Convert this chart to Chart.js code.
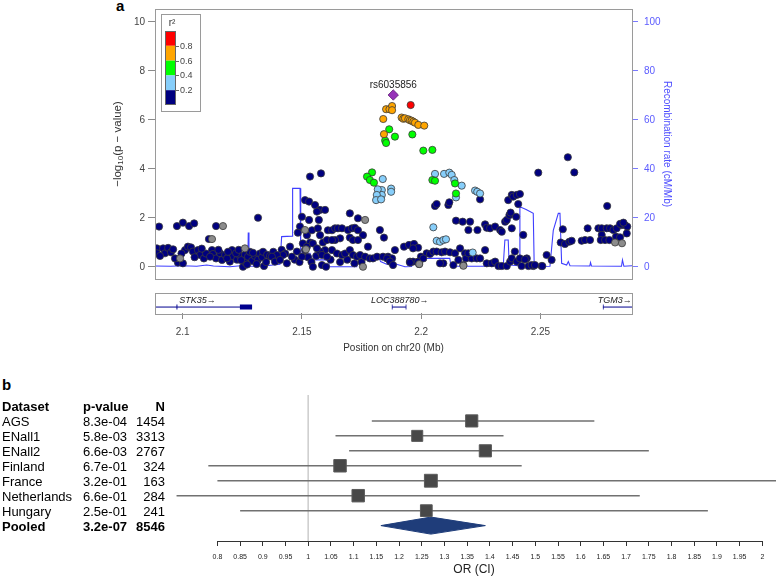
<!DOCTYPE html>
<html>
<head>
<meta charset="utf-8">
<script src="https://cdn.jsdelivr.net/npm/chart.js@4"></script>
<style>
  body { margin: 0; background: #fff; font-family: "Liberation Sans", Arial, sans-serif; }
  #page { position: relative; width: 778px; height: 581px; overflow: hidden; }
  canvas { position: absolute; left: 0; }
  .panel { position: absolute; font-weight: bold; font-size: 15px; line-height: 15px; }
  .cell { position: absolute; font-size: 13px; line-height: 15px; white-space: nowrap; color: #000; }
</style>
</head>
<body>
<div id="page">
  <div class="panel" style="left:116px;top:-2px">a</div>
  <div class="panel" style="left:2px;top:377px">b</div>
  <canvas id="locus" width="778" height="302" style="top:-10px"></canvas>
  <canvas id="genes" width="778" height="75" style="top:285px"></canvas>
  <canvas id="forest" width="778" height="191" style="top:390px"></canvas>
  <div id="table"></div>
</div>
<script>
const FONT = '"Liberation Sans", Arial, sans-serif';
Chart.defaults.font.family = FONT;
Chart.defaults.animation = false;

// ---- panel a : regional association plot ----
const xRange = [2.0884, 2.2884];          // Mb on chr20
const pTicks = [0, 2, 4, 6, 8, 10];
const recTicks = [0, 20, 40, 60, 80, 100];
const posTicks = [2.1, 2.15, 2.2, 2.25];

const ldColors = ['#ff0000', '#ffa500', '#00ff00', '#87cefa', '#000080'];
const ldBreaks = ['0.8', '0.6', '0.4', '0.2'];

const topSnpName = 'rs6035856';
const topSnp = [[2.1883, 7.02]];
const snpRed = [[2.1956, 6.61]];
const snpOrange = [
  [2.1841, 6.04], [2.1844, 5.42], [2.1853, 6.44], [2.1867, 6.44], [2.1878, 6.57], [2.1878, 6.40],
  [2.1918, 6.10], [2.1925, 6.05], [2.1932, 6.07], [2.1946, 6.03], [2.1953, 5.99], [2.1960, 5.97],
  [2.1967, 5.93], [2.1974, 5.89], [2.1988, 5.80], [2.2013, 5.77]
];
const snpGreen = [
  [2.1849, 5.16], [2.1853, 5.06], [2.1794, 3.86], [2.1773, 3.69], [2.1785, 3.55], [2.1802, 3.44],
  [2.1866, 5.62], [2.1890, 5.32], [2.1963, 5.41], [2.2009, 4.75], [2.2047, 4.78], [2.2047, 3.55],
  [2.2058, 3.52], [2.2142, 3.41], [2.2146, 3.00]
];
const snpBlue = [
  [2.1839, 3.59], [2.1835, 3.14], [2.1835, 2.94], [2.1874, 3.20], [2.1874, 3.07], [2.1818, 3.17],
  [2.1814, 2.94], [2.1811, 2.73], [2.1832, 2.76], [2.2058, 3.80], [2.2096, 3.80], [2.2118, 3.85],
  [2.2128, 3.76], [2.2139, 3.55], [2.2170, 3.32], [2.2146, 2.84], [2.2226, 3.12], [2.2235, 3.07],
  [2.2247, 3.00], [2.2051, 1.62], [2.2065, 1.07], [2.2079, 1.03], [2.2093, 1.10], [2.2104, 1.13],
  [2.2216, 0.59]
];
const snpGray = [
  [2.1169, 1.67], [2.1123, 1.14], [2.0989, 0.35], [2.1261, 0.76], [2.1756, 0.01], [2.1765, 1.92],
  [2.1513, 1.51], [2.1517, 0.72], [2.2813, 1.00], [2.2842, 0.97], [2.1992, 0.12], [2.2177, 0.05]
];
const snpNavy = [
  [2.0901, 1.65], [2.0976, 1.67], [2.1001, 1.81], [2.1027, 1.67], [2.1048, 1.78], [2.1140, 1.67],
  [2.1316, 2.01], [2.1110, 1.14],
  [2.0892, 0.76], [2.0892, 0.56], [2.0918, 0.76], [2.0926, 0.56], [2.0939, 0.78], [2.0951, 0.60],
  [2.0980, 0.18], [2.1001, 0.15], [2.1010, 0.69], [2.1022, 0.83], [2.1035, 0.80], [2.1043, 0.63],
  [2.1064, 0.69], [2.1073, 0.49], [2.1089, 0.35], [2.1123, 0.69], [2.1127, 0.53], [2.1140, 0.35],
  [2.1157, 0.56], [2.1165, 0.29], [2.1178, 0.49], [2.1198, 0.22], [2.1207, 0.69], [2.1211, 0.44],
  [2.1228, 0.30], [2.1240, 0.47], [2.1253, 0.01], [2.1261, 0.20], [2.1261, 0.50], [2.1274, 0.42],
  [2.1282, 0.62], [2.1291, 0.25], [2.1303, 0.45], [2.1316, 0.30], [2.1324, 0.55], [2.1333, 0.40],
  [2.1337, 0.62], [2.1341, 0.04], [2.1354, 0.50], [2.1366, 0.45], [2.0968, 0.35], [2.1098, 0.55],
  [2.1186, 0.35], [2.1224, 0.56], [2.1295, 0.58],
  [2.0905, 0.45], [2.0960, 0.72], [2.0995, 0.55], [2.1050, 0.40], [2.1080, 0.75], [2.1115, 0.42],
  [2.1150, 0.70], [2.1190, 0.62], [2.1235, 0.70], [2.1245, 0.28], [2.1270, 0.10], [2.1310, 0.12],
  [2.1350, 0.20], [2.1380, 0.62], [2.1415, 0.70], [2.1430, 0.55], [2.1470, 0.30], [2.1490, 0.20],
  [2.1525, 0.40], [2.1560, 0.45], [2.1540, 0.20], [2.1620, 0.30], [2.1660, 0.20], [2.1690, 0.30],
  [2.1750, 0.20], [2.1720, 0.15],
  [2.1534, 3.69], [2.1580, 3.82], [2.1513, 2.73], [2.1530, 2.67], [2.1555, 2.53], [2.1576, 2.33],
  [2.1597, 2.33], [2.1563, 2.26], [2.1500, 2.05], [2.1530, 1.92], [2.1571, 1.92], [2.1701, 2.19],
  [2.1735, 1.99], [2.1492, 1.65], [2.1483, 1.40], [2.1521, 1.30], [2.1542, 1.50], [2.1567, 1.58],
  [2.1576, 1.30], [2.1588, 1.00], [2.1605, 1.10], [2.1609, 1.50], [2.1626, 1.50], [2.1639, 1.58],
  [2.1651, 1.58], [2.1668, 1.58], [2.1693, 1.51], [2.1710, 1.58], [2.1722, 1.60], [2.1735, 1.50],
  [2.1756, 1.30], [2.1701, 1.20], [2.1714, 1.10], [2.1735, 1.10], [2.1660, 1.17], [2.1639, 1.10],
  [2.1626, 1.10], [2.1597, 0.69], [2.1576, 0.63], [2.1584, 0.49], [2.1605, 0.42], [2.1626, 0.69],
  [2.1647, 0.55], [2.1668, 0.49], [2.1681, 0.55], [2.1701, 0.69], [2.1714, 0.49], [2.1731, 0.42],
  [2.1744, 0.49], [2.1765, 0.42], [2.1785, 0.35], [2.1798, 0.35], [2.1815, 0.42], [2.1840, 0.42],
  [2.1861, 0.42], [2.1878, 0.35], [2.1827, 1.51], [2.1844, 1.20], [2.1890, 0.69], [2.1777, 0.83],
  [2.1450, 0.83], [2.1421, 0.49], [2.1395, 0.49], [2.1374, 0.42], [2.1387, 0.22], [2.1408, 0.29],
  [2.1437, 0.15], [2.1458, 0.42], [2.1500, 0.42], [2.1513, 0.69], [2.1534, 1.00], [2.1504, 0.96],
  [2.1521, 0.83], [2.1546, 0.96], [2.1563, 0.76], [2.1479, 0.63], [2.1546, 0.01], [2.1584, 0.08],
  [2.1601, 0.01],
  [2.1928, 0.83], [2.1949, 0.90], [2.1970, 0.94], [2.1987, 0.79], [2.1966, 0.76], [2.1857, 0.35],
  [2.1869, 0.22], [2.1882, 0.08], [2.1953, 0.22], [2.1966, 0.22], [2.1991, 0.12],
  [2.1999, 0.42], [2.2023, 0.56], [2.2037, 0.53], [2.2051, 0.63], [2.2065, 0.63], [2.2086, 0.60],
  [2.2100, 0.63], [2.2121, 0.60], [2.2142, 0.56], [2.2163, 0.76], [2.2184, 0.56], [2.2188, 0.35],
  [2.2212, 0.35], [2.2233, 0.35], [2.2247, 0.35], [2.2268, 0.69], [2.2275, 0.15], [2.2296, 0.15],
  [2.2310, 0.22], [2.2324, 0.04], [2.2338, 0.04], [2.2359, 0.04], [2.2373, 0.22], [2.2380, 0.35],
  [2.2393, 0.63], [2.2401, 0.22], [2.2414, 0.35], [2.2421, 0.04], [2.2443, 0.35], [2.2450, 0.04],
  [2.2470, 0.04], [2.2505, 0.04], [2.2526, 0.49], [2.2547, 0.29],
  [2.2093, 0.15], [2.2135, 0.08], [2.2177, 0.08], [2.2156, 0.29], [2.2198, 0.56], [2.2079, 0.15],
  [2.1953, 0.18], [2.1987, 0.22], [2.2009, 0.35],
  [2.2058, 2.49], [2.2065, 2.57], [2.2114, 2.53], [2.2118, 2.64], [2.2146, 1.89], [2.2174, 1.85],
  [2.2205, 1.85], [2.2198, 1.51], [2.2236, 1.51], [2.2247, 2.76], [2.2268, 1.74], [2.2275, 1.60],
  [2.2289, 1.58], [2.2310, 1.65], [2.2331, 1.51], [2.2338, 1.44], [2.2352, 1.85], [2.2359, 1.92],
  [2.2370, 2.12], [2.2375, 2.22], [2.2365, 2.73], [2.2380, 2.94], [2.2386, 2.87], [2.2401, 2.94],
  [2.2414, 2.98], [2.2407, 2.57], [2.2380, 1.58], [2.2398, 2.05], [2.2491, 3.85], [2.2615, 4.48],
  [2.2642, 3.86], [2.2594, 1.54], [2.2780, 2.49], [2.2428, 1.31],
  [2.2435, 0.31], [2.2463, 0.08], [2.2477, 0.08], [2.2508, 0.04],
  [2.2585, 1.00], [2.2603, 0.94], [2.2621, 1.03], [2.2631, 1.07], [2.2673, 1.07], [2.2687, 1.10],
  [2.2708, 1.10], [2.2698, 1.58], [2.2743, 1.58], [2.2757, 1.58], [2.2778, 1.58], [2.2792, 1.58],
  [2.2806, 1.51], [2.2820, 1.58], [2.2841, 1.71], [2.2855, 1.71], [2.2864, 1.65], [2.2757, 1.31],
  [2.2753, 1.10], [2.2771, 1.10], [2.2789, 1.10], [2.2817, 1.24], [2.2834, 1.21], [2.2834, 1.76],
  [2.2848, 1.81], [2.2862, 1.37]
];

// recombination rate (cM/Mb)
const recPos = [2.0884, 2.0950, 2.1000, 2.1059, 2.1101, 2.1129, 2.1198, 2.1254, 2.1273, 2.1275, 2.1278,
  2.1338, 2.1408, 2.1415, 2.1459, 2.1461, 2.1492, 2.1495, 2.1534, 2.1545, 2.1611, 2.1615, 2.1730,
  2.1744, 2.1820, 2.1830, 2.1855, 2.1883, 2.1932, 2.1960, 2.1962, 2.2005, 2.2009, 2.2120, 2.2125,
  2.2344, 2.2351, 2.2365, 2.2369, 2.2411, 2.2414, 2.2440, 2.2470, 2.2474, 2.2540, 2.2554, 2.2575,
  2.2582, 2.2589, 2.2610, 2.2617, 2.2624, 2.2707, 2.2710, 2.2714, 2.2840, 2.2844, 2.2850, 2.2884];
const recRate = [0.4, 0.3, 0.5, 0.3, 0.8, 0.4, 0.1, 0.6, 0.2, 14.1, 0.3,
  0.4, 1.1, 12.4, 12.6, 32.1, 32.1, 5.6, 5.6, 2.9, 2.9, 0.1, 0.1,
  4.5, 4.5, 2.2, 1.1, 1.5, 0.1, 0.2, 2.2, 2.2, 3.5, 3.5, 0.3,
  0.3, 11.0, 11.0, 0.8, 0.5, 24.6, 23.5, 21.9, 0.2, 0.3, 15.0, 21.9,
  21.9, 1.5, 0.8, 2.2, 0.5, 0.4, 1.8, 0.4, 0.3, 2.9, 0.3, 0.5];

// gene track
const geneNames = ['STK35', 'LOC388780', 'TGM3'];
const geneStart = [2.0884, 2.1878, 2.2762];
const geneEnd = [2.1291, 2.1937, 2.2884];
const geneLabelPos = [2.1062, 2.1910, 2.2812];
const exonStart = [2.0974, 2.1240, 2.1877, 2.1935, 2.2762];
const exonEnd = [2.0978, 2.1291, 2.1880, 2.1938, 2.2765];

// ---- panel b : meta-analysis ----
const studies = ['AGS', 'ENall1', 'ENall2', 'Finland', 'France', 'Netherlands', 'Hungary'];
const pValues = ['8.3e-04', '5.8e-03', '6.6e-03', '6.7e-01', '3.2e-01', '6.6e-01', '2.5e-01'];
const sampleN = [1454, 3313, 2767, 324, 163, 284, 241];
const orEst = [1.36, 1.24, 1.39, 1.07, 1.27, 1.11, 1.26];
const orLow = [1.14, 1.06, 1.09, 0.78, 0.80, 0.71, 0.85];
const orHigh = [1.63, 1.43, 1.75, 1.47, 2.03, 1.73, 1.88];
const pooledLabel = 'Pooled';
const pooledP = '3.2e-07';
const pooledN = 8546;
const pooledEst = 1.27, pooledLow = 1.16, pooledHigh = 1.39;
const orTicks = [0.8, 0.85, 0.9, 0.95, 1, 1.05, 1.1, 1.15, 1.2, 1.25, 1.3, 1.35, 1.4, 1.45, 1.5,
  1.55, 1.6, 1.65, 1.7, 1.75, 1.8, 1.85, 1.9, 1.95, 2];

const pts = arr => arr.map(([x, y]) => ({ x, y }));
const fmt = v => String(Math.round(v * 100) / 100);

// ---------- locus plot ----------
function snpSet(data, color, order) {
  return {
    data: pts(data), backgroundColor: color, borderColor: '#3a3a3a', borderWidth: 0.8,
    pointRadius: 3.6, order: order
  };
}

const boxPlugin = {
  id: 'box',
  afterDraw(chart) {
    const { ctx, chartArea: ca } = chart;
    ctx.save();
    ctx.strokeStyle = '#9a9a9a';
    ctx.lineWidth = 1;
    ctx.strokeRect(Math.round(ca.left) + 0.5, Math.round(ca.top) + 0.5,
      Math.round(ca.right - ca.left), Math.round(ca.bottom - ca.top));
    ctx.restore();
  }
};

const ldLegend = {
  id: 'ldLegend',
  afterDraw(chart) {
    const { ctx, chartArea: ca } = chart;
    const x0 = Math.round(ca.left) + 6, y0 = Math.round(ca.top) + 5, sw = 14.8;
    ctx.save();
    ctx.fillStyle = '#fff';
    ctx.fillRect(x0, y0, 39, 97);
    ctx.strokeStyle = '#9a9a9a';
    ctx.strokeRect(x0 + 0.5, y0 + 0.5, 39, 97);
    ctx.fillStyle = '#333';
    ctx.font = '10px ' + FONT;
    ctx.textAlign = 'center';
    ctx.textBaseline = 'middle';
    ctx.fillText('r\u00b2', x0 + 11, y0 + 9);
    ldColors.forEach((c, i) => {
      ctx.fillStyle = c;
      ctx.fillRect(x0 + 4, y0 + 17 + i * sw, 11, sw);
    });
    ctx.strokeStyle = '#666';
    ctx.strokeRect(x0 + 4.5, y0 + 17.5, 10, sw * 5 - 1);
    ctx.font = '9px ' + FONT;
    ctx.textAlign = 'left';
    ldBreaks.forEach((b, i) => {
      const yy = Math.round(y0 + 17 + (i + 1) * sw) + 0.5;
      ctx.strokeStyle = '#666';
      ctx.beginPath(); ctx.moveTo(x0 + 15, yy); ctx.lineTo(x0 + 18, yy); ctx.stroke();
      ctx.fillStyle = '#444';
      ctx.fillText(b, x0 + 19, yy);
    });
    ctx.restore();
  }
};

const snpLabel = {
  id: 'snpLabel',
  afterDraw(chart) {
    const { ctx, scales } = chart;
    const px = scales.x.getPixelForValue(topSnp[0][0]);
    const py = scales.y.getPixelForValue(topSnp[0][1]);
    ctx.save();
    ctx.fillStyle = '#222';
    ctx.font = '10px ' + FONT;
    ctx.textAlign = 'center';
    ctx.textBaseline = 'middle';
    ctx.fillText(topSnpName, px, py - 10);
    ctx.restore();
  }
};

// y title with a subscript: -log10(p - value)
const pAxisTitle = {
  id: 'pAxisTitle',
  afterDraw(chart) {
    const { ctx, chartArea: ca } = chart;
    const big = '11.5px ' + FONT, small = '8px ' + FONT;
    const parts = [['\u2212log', big, 0], ['10', small, 3], ['(p \u2212 value)', big, 0]];
    ctx.save();
    ctx.translate(ca.left - 37, (ca.top + ca.bottom) / 2);
    ctx.rotate(-Math.PI / 2);
    ctx.fillStyle = '#333';
    ctx.textBaseline = 'middle';
    ctx.textAlign = 'left';
    const widths = parts.map(p => { ctx.font = p[1]; return ctx.measureText(p[0]).width; });
    let x = -widths.reduce((a, b) => a + b, 0) / 2;
    parts.forEach((p, i) => {
      ctx.font = p[1];
      ctx.fillText(p[0], x, p[2]);
      x += widths[i];
    });
    ctx.restore();
  }
};

new Chart(document.getElementById('locus'), {
  type: 'scatter',
  data: {
    datasets: [
      { data: pts(topSnp), pointStyle: 'rectRot', pointRadius: 5.2, backgroundColor: '#9632b8',
        borderColor: '#5e1f75', borderWidth: 0.8, order: 0 },
      snpSet(snpRed, ldColors[0], 1),
      snpSet(snpOrange, ldColors[1], 2),
      snpSet(snpGreen, ldColors[2], 3),
      snpSet(snpBlue, ldColors[3], 4),
      snpSet(snpGray, '#8c8c8c', 5),
      snpSet(snpNavy, ldColors[4], 6),
      { data: recPos.map((x, i) => ({ x, y: recRate[i] })), yAxisID: 'y2', showLine: true,
        borderColor: '#3f3fff', borderWidth: 1.1, pointRadius: 0, order: 7 }
    ]
  },
  options: {
    responsive: false,
    layout: { autoPadding: false, padding: { left: 110, right: 104, top: 19, bottom: 13 } },
    plugins: { legend: { display: false }, tooltip: { enabled: false } },
    scales: {
      x: { type: 'linear', min: xRange[0], max: xRange[1], display: false },
      y: {
        position: 'left', min: -0.49, max: 10.53,
        afterFit(s) { s.width = 45; },
        afterBuildTicks(s) { s.ticks = pTicks.map(v => ({ value: v })); },
        grid: { drawOnChartArea: false, tickLength: 7, color: '#8a8a8a' },
        border: { display: false },
        ticks: { color: '#444', font: { size: 10 }, padding: 3 }
      },
      y2: {
        position: 'right', min: -4.9, max: 105.3,
        afterFit(s) { s.width = 42; },
        afterBuildTicks(s) { s.ticks = recTicks.map(v => ({ value: v })); },
        grid: { drawOnChartArea: false, tickLength: 6, color: '#7a7aff' },
        border: { display: false },
        ticks: { color: '#5b5bff', font: { size: 10 }, padding: 6 },
        title: { display: true, text: 'Recombination rate (cM/Mb)', color: '#4d4dff',
          font: { size: 10 }, padding: { top: 1, bottom: 0 } }
      }
    }
  },
  plugins: [boxPlugin, ldLegend, snpLabel, pAxisTitle]
});

// ---------- gene track ----------
const geneColor = '#00008f';
const geneSets = [];
geneNames.forEach((g, i) => {
  geneSets.push({ data: [{ x: geneStart[i], y: 0.29 }, { x: geneEnd[i], y: 0.29 }],
    borderColor: geneColor, borderWidth: 1, pointRadius: 0 });
});
exonStart.forEach((s, i) => {
  geneSets.push({ data: [{ x: s, y: 0.29 }, { x: exonEnd[i], y: 0.29 }],
    borderColor: geneColor, borderWidth: 5, borderCapStyle: 'butt', pointRadius: 0 });
});

const geneLabels = {
  id: 'geneLabels',
  afterDraw(chart) {
    const { ctx, scales } = chart;
    ctx.save();
    ctx.fillStyle = '#222';
    ctx.font = 'italic 9px ' + FONT;
    ctx.textAlign = 'center';
    ctx.textBaseline = 'middle';
    geneNames.forEach((g, i) => {
      ctx.fillText(g + '\u2192', scales.x.getPixelForValue(geneLabelPos[i]), scales.y.getPixelForValue(0.61));
    });
    ctx.restore();
  }
};

new Chart(document.getElementById('genes'), {
  type: 'line',
  data: { datasets: geneSets },
  options: {
    responsive: false,
    layout: { autoPadding: false, padding: { left: 155, right: 146, top: 7.5, bottom: 0 } },
    plugins: { legend: { display: false }, tooltip: { enabled: false } },
    scales: {
      x: {
        type: 'linear', min: xRange[0], max: xRange[1],
        afterFit(s) { s.height = 47; s.paddingLeft = 0; s.paddingRight = 0; },
        afterBuildTicks(s) { s.ticks = posTicks.map(v => ({ value: v })); },
        grid: { drawOnChartArea: false, tickLength: 6, color: '#8a8a8a' },
        border: { display: false },
        ticks: { color: '#444', font: { size: 10 }, padding: 7, callback: v => fmt(v) },
        title: { display: true, text: 'Position on chr20 (Mb)', color: '#333',
          font: { size: 10 }, padding: { top: 0, bottom: 6 } }
      },
      y: { type: 'linear', min: 0, max: 1, display: false }
    }
  },
  plugins: [boxPlugin, geneLabels]
});

// ---------- forest plot ----------
const table = document.getElementById('table');
function cell(text, left, row, opts) {
  const d = document.createElement('div');
  d.className = 'cell';
  d.textContent = text;
  d.style.top = (406 + 15 * row - 7) + 'px';
  if (opts && opts.right) {
    d.style.left = (left - 60) + 'px';
    d.style.width = '60px';
    d.style.textAlign = 'right';
  } else {
    d.style.left = left + 'px';
  }
  if (opts && opts.bold) d.style.fontWeight = 'bold';
  table.appendChild(d);
}
cell('Dataset', 2, 0, { bold: true });
cell('p-value', 83, 0, { bold: true });
cell('N', 165, 0, { bold: true, right: true });
studies.forEach((s, i) => {
  cell(s, 2, i + 1);
  cell(pValues[i], 83, i + 1);
  cell(String(sampleN[i]), 165, i + 1, { right: true });
});
cell(pooledLabel, 2, 8, { bold: true });
cell(pooledP, 83, 8, { bold: true });
cell(String(pooledN), 165, 8, { bold: true, right: true });

const sqRadius = [8.6, 7.8, 8.6, 8.8, 9.1, 8.8, 8.3];
const forestSets = [
  { data: orEst.map((v, i) => ({ x: v, y: i + 1 })), showLine: false, pointStyle: 'rect',
    pointRadius: sqRadius, backgroundColor: '#484848', borderColor: '#5a5a5a', borderWidth: 1, order: 0 },
  { data: [{ x: pooledLow, y: 8 }, { x: pooledEst, y: 7.43 }, { x: pooledHigh, y: 8 },
           { x: pooledEst, y: 8.57 }, { x: pooledLow, y: 8 }],
    fill: 'shape', backgroundColor: '#1f3d7a', borderColor: '#1f3d7a', borderWidth: 1,
    pointRadius: 0, tension: 0, order: 1 },
  { data: [{ x: 1, y: -0.733 }, { x: 1, y: 9.03 }], borderColor: '#cfcfcf', borderWidth: 1,
    pointRadius: 0, order: 3 }
];
studies.forEach((s, i) => {
  forestSets.push({ data: [{ x: orLow[i], y: i + 1 }, { x: orHigh[i], y: i + 1 }],
    borderColor: '#717171', borderWidth: 1.5, pointRadius: 0, order: 2 });
});

const orAxisLine = {
  id: 'orAxisLine',
  afterDraw(chart) {
    const { ctx, scales, chartArea: ca } = chart;
    const y = Math.round(ca.bottom) + 0.5;
    ctx.save();
    ctx.strokeStyle = '#333';
    ctx.lineWidth = 1;
    ctx.beginPath();
    ctx.moveTo(scales.x.getPixelForValue(orTicks[0]), y);
    ctx.lineTo(scales.x.getPixelForValue(orTicks[orTicks.length - 1]), y);
    ctx.stroke();
    ctx.restore();
  }
};

new Chart(document.getElementById('forest'), {
  type: 'line',
  data: { datasets: forestSets },
  options: {
    responsive: false,
    layout: { autoPadding: false, padding: { left: 172, right: 2, top: 5, bottom: 0 } },
    plugins: { legend: { display: false }, tooltip: { enabled: false } },
    scales: {
      x: {
        type: 'linear', min: 0.7, max: 2.03,
        afterFit(s) { s.height = 40; s.paddingLeft = 0; s.paddingRight = 0; },
        afterBuildTicks(s) { s.ticks = orTicks.map(v => ({ value: v })); },
        grid: { drawOnChartArea: false, tickLength: 5, color: '#333' },
        border: { display: false },
        ticks: { color: '#222', font: { size: 7 }, padding: 7, maxRotation: 0, autoSkip: false,
          callback: v => fmt(v) },
        title: { display: true, text: 'OR (CI)', color: '#222', font: { size: 12 },
          padding: { top: 0, bottom: 4 } }
      },
      y: { type: 'linear', min: -0.733, max: 9.03, reverse: true, display: false }
    }
  },
  plugins: [orAxisLine]
});
</script>
</body>
</html>
